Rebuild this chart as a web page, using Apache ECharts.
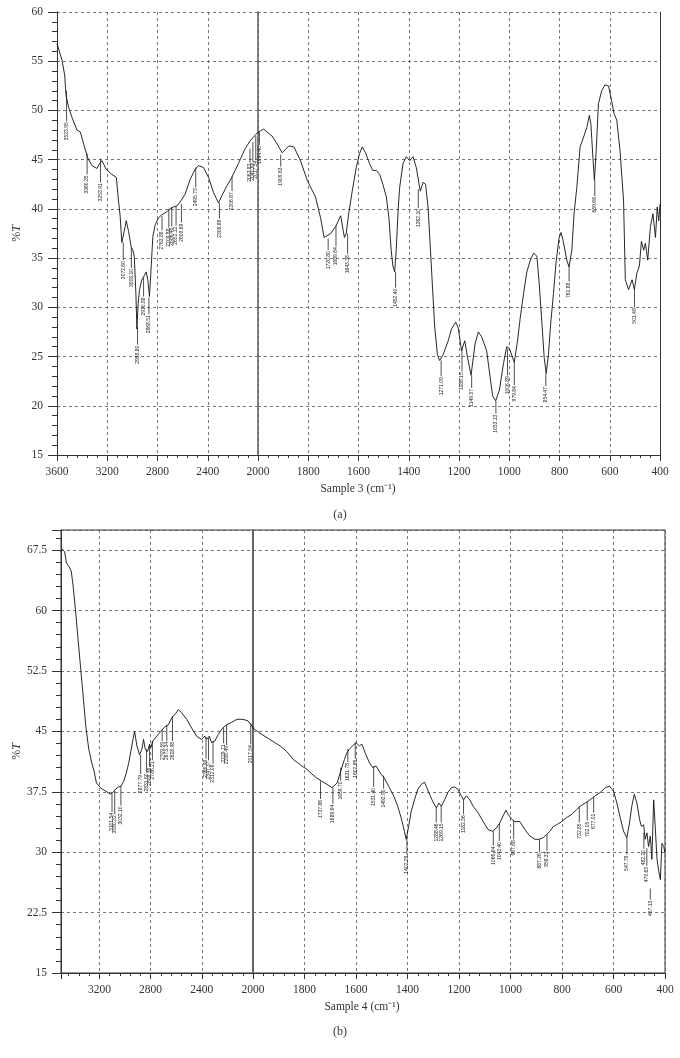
<!DOCTYPE html>
<html>
<head>
<meta charset="utf-8">
<script src="https://cdn.jsdelivr.net/npm/echarts@6/dist/echarts.min.js"></script>
<style>
  html, body { margin: 0; padding: 0; background: #fff; }
  #main { width: 680px; height: 1058px; }
</style>
</head>
<body>
<div id="main"></div>
<script>
// Sample 3 spectrum (wavenumber, %T)
var sample3Wave = [3600, 3560, 3539, 3528, 3507, 3481, 3441, 3414, 3388, 3356, 3322, 3282, 3261, 3242, 3208, 3163, 3128, 3110, 3097, 3084,
  3076, 3057, 3049, 3030, 3009, 2996, 2985, 2972, 2964, 2954, 2943, 2925, 2906, 2890, 2877, 2864, 2850, 2837, 2818, 2792,
  2766, 2726, 2700, 2673, 2646, 2620, 2607, 2580, 2540, 2501, 2474, 2434, 2394, 2355, 2315, 2289, 2249, 2209, 2156, 2103,
  2064, 2029, 2000, 1977, 1964, 1944, 1924, 1904, 1877, 1857, 1831, 1804, 1771, 1751, 1737, 1731, 1711, 1691, 1671, 1656,
  1649, 1639, 1625, 1609, 1596, 1585, 1572, 1556, 1543, 1529, 1516, 1503, 1489, 1479, 1470, 1463, 1456, 1450, 1442, 1436,
  1423, 1410, 1396, 1383, 1370, 1354, 1343, 1333, 1323, 1317, 1306, 1297, 1286, 1277, 1263, 1243, 1230, 1213, 1203, 1190,
  1177, 1166, 1152, 1136, 1123, 1110, 1090, 1076, 1066, 1054, 1039, 1023, 1010, 999, 992, 980, 967, 956, 943, 930,
  916, 903, 890, 881, 870, 861, 853, 844, 835, 824, 814, 802, 794, 785, 771, 762, 751, 742, 731, 718,
  704, 691, 681, 675, 667, 661, 654, 645, 632, 619, 605, 592, 583, 572, 559, 545, 538, 525, 511, 502,
  492, 482, 474, 465, 458, 449, 438, 428, 418, 411, 405, 400];
var sample3T = [56.8, 55.1, 53.6, 51.5, 50.3, 49.3, 48.0, 47.8, 46.6, 45.2, 44.4, 44.1, 44.6, 44.9, 44.0, 43.5, 43.2, 40.8, 39.2, 36.6,
  36.5, 38.2, 38.8, 37.7, 36.1, 35.8, 35.2, 31.4, 27.8, 30.4, 31.8, 32.8, 33.2, 33.6, 32.8, 31.1, 34.2, 37.2, 38.4, 39.1,
  39.4, 39.7, 40.0, 40.2, 40.3, 40.7, 40.8, 41.5, 43.0, 44.0, 44.4, 44.2, 43.2, 41.7, 40.6, 41.3, 42.3, 43.2, 44.6, 46.1,
  46.9, 47.4, 47.8, 48.1, 47.8, 47.4, 46.6, 45.7, 46.4, 46.3, 44.9, 42.9, 41.2, 39.1, 37.1, 37.0, 37.5, 38.2, 39.3, 37.1,
  37.5, 39.5, 41.8, 44.2, 45.6, 46.3, 45.7, 44.6, 43.9, 43.9, 43.5, 42.5, 41.2, 39.1, 35.8, 34.2, 33.6, 35.8, 40.0, 42.2,
  44.6, 45.3, 44.9, 45.3, 44.2, 41.8, 42.7, 42.5, 40.1, 37.4, 32.3, 28.1, 25.2, 24.6, 25.2, 26.6, 27.8, 28.5, 27.9, 25.6,
  26.6, 24.9, 23.1, 26.3, 27.5, 27.0, 25.6, 22.9, 21.0, 20.5, 21.6, 24.3, 26.0, 25.8, 25.6, 24.4, 26.6, 29.0, 31.4, 33.6,
  34.8, 35.5, 35.2, 32.5, 28.4, 24.9, 23.3, 25.2, 28.4, 31.4, 34.5, 37.0, 37.6, 36.7, 34.8, 34.1, 35.8, 39.5, 42.2, 46.3,
  47.3, 48.3, 49.5, 48.6, 45.2, 42.9, 45.9, 50.7, 52.0, 52.6, 52.5, 50.9, 49.7, 49.0, 45.9, 40.8, 32.8, 31.8, 32.8, 31.8,
  33.5, 34.2, 36.7, 35.8, 36.5, 34.8, 38.2, 39.5, 37.1, 40.2, 38.8, 40.5];

// Sample 3 peak annotations: label, top of pointer line, top of text (%T)
var peaks3Label = ['3523.95', '3360.35', '3253.91', '3072.60', '3008.10', '2958.80', '2910.88', '2868.51', '2763.88', '2709.88',
  '2686.48', '2652.12', '2609.69', '2495.73', '2306.88', '2206.67', '2063.83', '2040.69', '2017.54', '1994.40',
  '1909.63', '1720.80', '1689.64', '1643.38', '1452.40', '1362.10', '1271.09', '1188.15', '1149.57', '1053.13',
  '1006.89', '979.84', '854.47', '761.88', '659.66', '501.49'];
var peaks3Top = [52.0, 45.6, 45.1, 36.6, 36.1, 28.0, 33.0, 31.0, 39.3, 40.0,
  40.2, 40.3, 40.5, 44.2, 40.6, 43.3, 46.1, 46.8, 47.4, 47.8,
  45.5, 37.0, 38.3, 37.5, 33.6, 42.0, 24.6, 25.8, 23.1, 20.5,
  25.8, 24.4, 23.3, 34.1, 42.9, 31.8];
var peaks3Text = [48.9, 43.5, 42.7, 34.8, 34.0, 26.2, 31.1, 29.3, 37.8, 38.1,
  38.2, 38.3, 38.6, 42.2, 39.0, 41.8, 44.7, 44.8, 45.0, 46.5,
  44.3, 35.8, 36.2, 35.4, 32.0, 40.1, 23.0, 23.5, 21.8, 19.2,
  23.1, 22.1, 22.0, 32.6, 41.3, 30.0];

// Sample 4 spectrum
var sample4Wave = [3500, 3490, 3472, 3457, 3439, 3420, 3405, 3387, 3369, 3348, 3327, 3306, 3283, 3257, 3244, 3223, 3192, 3153, 3114, 3094,
  3076, 3050, 3031, 3011, 2990, 2972, 2951, 2938, 2925, 2907, 2886, 2868, 2855, 2842, 2824, 2808, 2798, 2783, 2752, 2720,
  2687, 2661, 2635, 2609, 2583, 2557, 2518, 2479, 2441, 2402, 2376, 2363, 2342, 2324, 2298, 2272, 2239, 2207, 2169, 2124,
  2078, 2039, 2013, 2000, 1974, 1935, 1895, 1869, 1843, 1810, 1791, 1771, 1752, 1732, 1712, 1693, 1673, 1660, 1645, 1636,
  1626, 1613, 1600, 1587, 1577, 1564, 1548, 1535, 1522, 1516, 1503, 1490, 1470, 1451, 1438, 1425, 1412, 1405, 1395, 1386,
  1373, 1360, 1347, 1334, 1325, 1312, 1299, 1288, 1278, 1269, 1256, 1243, 1230, 1217, 1204, 1191, 1182, 1171, 1158, 1145,
  1126, 1106, 1087, 1070, 1055, 1042, 1029, 1018, 1009, 996, 983, 964, 944, 925, 905, 888, 873, 860, 847, 834,
  821, 801, 782, 762, 743, 730, 710, 691, 671, 652, 632, 616, 600, 587, 574, 561, 548, 538, 529, 519,
  509, 499, 492, 483, 477, 470, 464, 457, 451, 444, 438, 431, 425, 418, 412, 405, 400];
var sample4T = [67.3, 67.6, 67.3, 65.9, 65.5, 64.9, 63.0, 60.1, 56.8, 53.1, 49.4, 45.6, 42.8, 40.9, 40.2, 38.6, 38.0, 37.6, 37.2, 37.4,
  37.8, 38.1, 38.2, 38.8, 39.8, 41.0, 42.8, 44.0, 45.0, 43.2, 42.1, 42.8, 44.0, 42.8, 42.5, 43.4, 43.0, 43.8, 44.4, 45.0,
  45.6, 45.8, 46.7, 47.1, 47.7, 47.3, 46.5, 45.4, 44.4, 44.0, 44.4, 44.0, 44.4, 43.6, 43.8, 44.6, 45.4, 45.8, 46.1, 46.5,
  46.5, 46.3, 45.8, 45.4, 44.8, 44.0, 43.2, 42.5, 41.5, 40.7, 40.3, 39.7, 39.2, 38.8, 38.4, 38.0, 38.6, 40.0, 41.5, 42.3,
  42.8, 43.2, 43.6, 43.2, 43.4, 42.3, 41.1, 40.5, 40.7, 40.7, 39.7, 39.2, 38.0, 36.8, 35.7, 34.3, 32.6, 31.6, 33.3, 35.0,
  36.5, 37.8, 38.4, 38.7, 38.0, 37.0, 36.1, 35.5, 36.1, 35.7, 36.5, 37.4, 38.0, 38.1, 37.8, 37.0, 36.5, 37.0, 36.5, 35.7,
  34.9, 33.8, 32.8, 32.6, 33.0, 33.6, 34.5, 35.2, 34.7, 34.1, 33.8, 33.8, 32.8, 32.0, 31.6, 31.6, 31.8, 32.2, 32.6, 33.2,
  33.4, 33.8, 34.3, 34.7, 35.3, 35.7, 36.1, 36.5, 37.0, 37.4, 38.0, 38.2, 37.6, 36.1, 34.3, 32.6, 31.8, 33.6, 35.7, 37.2,
  36.1, 34.1, 33.2, 33.4, 31.6, 32.4, 30.7, 32.0, 29.1, 36.5, 33.2, 29.1, 27.8, 26.6, 31.1, 30.7, 29.9];

var peaks4Label = ['3101.54', '3080.32', '3032.10', '2877.79', '2831.60', '2808.36', '2786.21', '2709.59', '2673.34', '2628.98',
  '2366.99', '2347.37', '2312.08', '2229.71', '2206.49', '2017.54', '1737.86', '1689.64', '1659.70', '1631.78',
  '1602.86', '1531.40', '1492.90', '1402.28', '1288.46', '1269.15', '1182.36', '1066.64', '1043.40', '987.68',
  '887.26', '858.33', '732.85', '702.05', '677.01', '547.78', '482.20', '470.63', '457.13'];
var peaks4Top = [37.2, 37.6, 38.2, 42.1, 42.8, 43.4, 43.8, 45.2, 45.8, 46.9,
  44.3, 44.2, 43.8, 45.5, 45.8, 46.0, 38.8, 38.0, 40.5, 42.8,
  43.6, 40.7, 39.5, 31.6, 35.5, 35.7, 36.6, 32.6, 33.6, 33.9,
  31.6, 32.2, 35.6, 36.3, 36.9, 31.8, 32.4, 30.5, 25.5];
var peaks4Text = [35.0, 34.7, 35.8, 39.7, 39.9, 40.6, 41.4, 43.8, 43.8, 43.8,
  41.6, 41.4, 41.0, 43.5, 43.3, 43.4, 36.6, 36.0, 38.9, 41.2,
  41.6, 38.1, 37.9, 29.7, 33.7, 33.7, 34.7, 30.8, 31.4, 31.6,
  30.0, 30.2, 33.7, 33.9, 34.9, 29.7, 30.4, 28.3, 24.1];

var serif = 'Liberation Serif';
var gridColor = '#555';

function pairs(wave, vals, keep) {
  var out = [];
  for (var i = 0; i < wave.length; i++) {
    if (keep(wave[i])) out.push([wave[i], vals[i]]);
  }
  return out;
}

function peakSeries(labels, tops, texts, xi, yi, keep) {
  var data = [], names = [];
  for (var i = 0; i < labels.length; i++) {
    var w = parseFloat(labels[i]);
    if (keep(w)) {
      data.push([w, tops[i], texts[i]]);
      names.push(labels[i]);
    }
  }
  return {
    type: 'custom',
    xAxisIndex: xi,
    yAxisIndex: yi,
    silent: true,
    encode: { x: 0, y: [1, 2] },
    data: data,
    renderItem: function (params, api) {
      var p0 = api.coord([api.value(0), api.value(1)]);
      var p1 = api.coord([api.value(0), api.value(2)]);
      return {
        type: 'group',
        children: [
          { type: 'line', shape: { x1: p0[0], y1: p0[1], x2: p1[0], y2: p1[1] },
            style: { stroke: '#222', lineWidth: 0.8 } },
          { type: 'text', x: p1[0], y: p1[1] + 1, rotation: Math.PI / 2,
            style: { text: names[params.dataIndex], fill: '#222', align: 'right', verticalAlign: 'middle',
              font: '5px "Liberation Sans"' } }
        ]
      };
    }
  };
}

function plain(v) { return String(v); }

function xAx(grid, min, max, interval, hideMin, hideMax) {
  return {
    type: 'value', gridIndex: grid, inverse: true, min: min, max: max, interval: interval,
    axisLine: { show: true, onZero: false, lineStyle: { color: '#333', width: 1 } },
    axisTick: { show: true, length: 6, lineStyle: { color: '#333' } },
    minorTick: { show: true, splitNumber: 5, length: 3, lineStyle: { color: '#333' } },
    axisLabel: { color: '#333', fontFamily: serif, fontSize: 11.5, margin: 11, formatter: plain,
      showMinLabel: !hideMin, showMaxLabel: !hideMax },
    splitLine: { show: true, lineStyle: { color: gridColor, type: [3, 3], width: 0.8 } }
  };
}

function yAx(grid, min, max, interval, showLabels, extra) {
  var ax = {
    type: 'value', gridIndex: grid, min: min, max: max, interval: interval,
    axisLine: { show: true, onZero: false, lineStyle: { color: '#333', width: 1 } },
    axisTick: { show: showLabels, length: 9, lineStyle: { color: '#333' } },
    minorTick: { show: showLabels, splitNumber: 5, length: 5, lineStyle: { color: '#333' } },
    axisLabel: { show: showLabels, color: '#333', fontFamily: serif, fontSize: 11.5, margin: 14, formatter: plain },
    splitLine: { show: true, lineStyle: { color: gridColor, type: [3, 3], width: 0.8 } }
  };
  for (var k in extra) ax[k] = extra[k];
  return ax;
}

var yName = {
  name: '{p|%}{t|T}',
  nameLocation: 'middle',
  nameGap: 34,
  nameTextStyle: { rich: {
    p: { fontFamily: serif, fontSize: 12, color: '#333' },
    t: { fontFamily: serif, fontSize: 12, fontStyle: 'italic', color: '#333' }
  } }
};

var divider = { show: true, onZero: false, lineStyle: { color: '#666', width: 1.6 } };
var border = { show: true, onZero: false, lineStyle: { color: '#333', width: 1 } };

var left = function (w) { return w >= 2000; };
var right = function (w) { return w <= 2000; };
var leftStrict = function (w) { return w > 2000; };

var curve = { color: '#111', width: 0.9 };

var myChart = echarts.init(document.getElementById('main'));

var option = {
  animation: false,
  backgroundColor: '#fff',
  grid: [
    { left: 57, top: 12, width: 201, height: 443 },
    { left: 258, top: 12, width: 402, height: 443 },
    { left: 61, top: 530, width: 192, height: 443, show: true, borderColor: '#333', borderWidth: 1 },
    { left: 253, top: 530, width: 412, height: 443, show: true, borderColor: '#333', borderWidth: 1 }
  ],
  xAxis: [
    xAx(0, 2000, 3600, 400, true, false),
    xAx(1, 400, 2000, 200, false, false),
    xAx(2, 2000, 3500, 400, true, true),
    xAx(3, 400, 2000, 200, false, false)
  ],
  yAxis: [
    yAx(0, 15, 60, 5, true, yName),
    yAx(1, 15, 60, 5, false, { axisLine: divider }),
    yAx(1, 15, 60, 5, false, { position: 'right', axisLine: border, splitLine: { show: false } }),
    yAx(2, 15, 70, 7.5, true, Object.assign({}, yName, {
      axisLabel: { color: '#333', fontFamily: serif, fontSize: 11.5, margin: 14, formatter: plain, showMaxLabel: false }
    })),
    yAx(3, 15, 70, 7.5, false, { axisLine: divider })
  ],
  series: [
    { type: 'line', xAxisIndex: 0, yAxisIndex: 0, showSymbol: false, silent: true,
      lineStyle: curve, data: pairs(sample3Wave, sample3T, left) },
    { type: 'line', xAxisIndex: 1, yAxisIndex: 1, showSymbol: false, silent: true,
      lineStyle: curve, data: pairs(sample3Wave, sample3T, right) },
    { type: 'line', xAxisIndex: 2, yAxisIndex: 3, showSymbol: false, silent: true,
      lineStyle: curve, data: pairs(sample4Wave, sample4T, left) },
    { type: 'line', xAxisIndex: 3, yAxisIndex: 4, showSymbol: false, silent: true,
      lineStyle: curve, data: pairs(sample4Wave, sample4T, right) },
    peakSeries(peaks3Label, peaks3Top, peaks3Text, 0, 0, leftStrict),
    peakSeries(peaks3Label, peaks3Top, peaks3Text, 1, 1, right),
    peakSeries(peaks4Label, peaks4Top, peaks4Text, 2, 3, leftStrict),
    peakSeries(peaks4Label, peaks4Top, peaks4Text, 3, 4, right)
  ],
  graphic: [
    { type: 'text', x: 358, y: 489, style: { text: 'Sample 3 (cm\u207B\u00B9)', align: 'center', verticalAlign: 'middle',
      fill: '#333', font: '11.5px "Liberation Serif"' } },
    { type: 'text', x: 340, y: 515, style: { text: '(a)', align: 'center', verticalAlign: 'middle',
      fill: '#333', font: '12px "Liberation Serif"' } },
    { type: 'text', x: 362, y: 1007, style: { text: 'Sample 4 (cm\u207B\u00B9)', align: 'center', verticalAlign: 'middle',
      fill: '#333', font: '11.5px "Liberation Serif"' } },
    { type: 'text', x: 340, y: 1032, style: { text: '(b)', align: 'center', verticalAlign: 'middle',
      fill: '#333', font: '12px "Liberation Serif"' } }
  ]
};

myChart.setOption(option);
</script>
</body>
</html>
